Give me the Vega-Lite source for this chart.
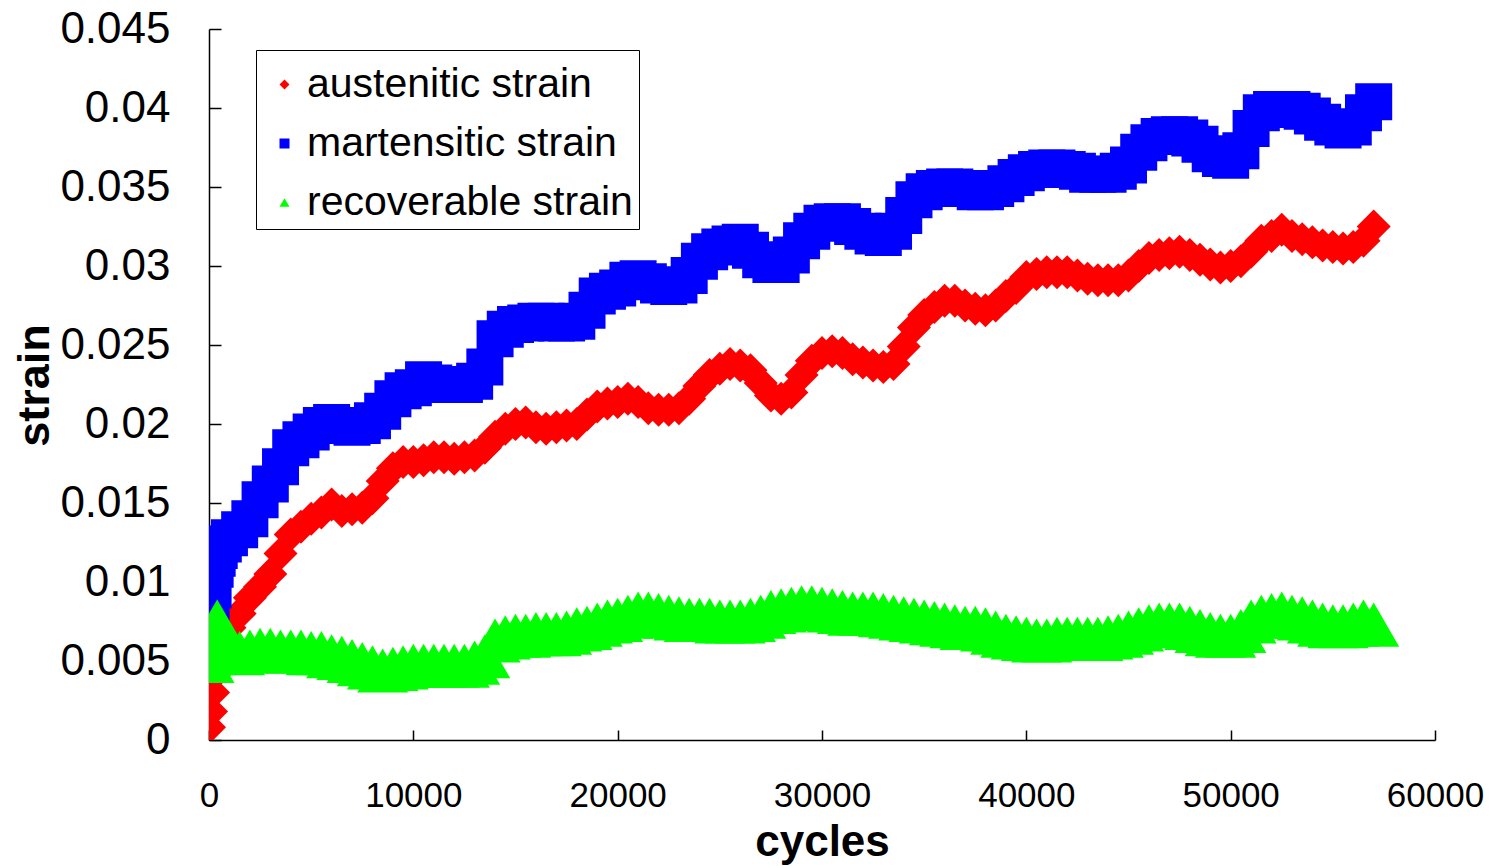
{
  "$schema": "https://vega.github.io/schema/vega-lite/v6.json",
  "width": 1226,
  "height": 711,
  "autosize": {"type": "none"},
  "padding": {"left": 209, "top": 29, "right": 60, "bottom": 126},
  "background": "white",
  "config": {"view": {"stroke": null}, "font": "Liberation Sans"},
  "data": {
    "values": [
      {"cycles": 0, "austenitic strain": 0.0008, "martensitic strain": 0.0070, "recoverable strain": 0.0050},
      {"cycles": 100, "austenitic strain": 0.0018, "martensitic strain": 0.0080, "recoverable strain": 0.0055},
      {"cycles": 200, "austenitic strain": 0.0030, "martensitic strain": 0.0095, "recoverable strain": 0.0058},
      {"cycles": 300, "austenitic strain": 0.0042, "martensitic strain": 0.0108, "recoverable strain": 0.0066},
      {"cycles": 400, "austenitic strain": 0.0052, "martensitic strain": 0.0115, "recoverable strain": 0.0075},
      {"cycles": 500, "austenitic strain": 0.0060, "martensitic strain": 0.0120, "recoverable strain": 0.0068},
      {"cycles": 700, "austenitic strain": 0.0066, "martensitic strain": 0.0124, "recoverable strain": 0.0061},
      {"cycles": 1000, "austenitic strain": 0.0071, "martensitic strain": 0.0128, "recoverable strain": 0.0056},
      {"cycles": 1500, "austenitic strain": 0.0080, "martensitic strain": 0.0133, "recoverable strain": 0.0055},
      {"cycles": 2000, "austenitic strain": 0.0090, "martensitic strain": 0.0140, "recoverable strain": 0.0056},
      {"cycles": 2500, "austenitic strain": 0.0097, "martensitic strain": 0.0152, "recoverable strain": 0.0057},
      {"cycles": 3000, "austenitic strain": 0.0105, "martensitic strain": 0.0162, "recoverable strain": 0.0057},
      {"cycles": 3500, "austenitic strain": 0.0118, "martensitic strain": 0.0173, "recoverable strain": 0.0056},
      {"cycles": 4000, "austenitic strain": 0.0130, "martensitic strain": 0.0185, "recoverable strain": 0.0056},
      {"cycles": 4500, "austenitic strain": 0.0135, "martensitic strain": 0.0190, "recoverable strain": 0.0056},
      {"cycles": 5000, "austenitic strain": 0.0140, "martensitic strain": 0.0195, "recoverable strain": 0.0055},
      {"cycles": 5500, "austenitic strain": 0.0144, "martensitic strain": 0.0199, "recoverable strain": 0.0055},
      {"cycles": 6000, "austenitic strain": 0.0149, "martensitic strain": 0.0201, "recoverable strain": 0.0053},
      {"cycles": 6500, "austenitic strain": 0.0145, "martensitic strain": 0.0199, "recoverable strain": 0.0052},
      {"cycles": 7000, "austenitic strain": 0.0146, "martensitic strain": 0.0198, "recoverable strain": 0.0050},
      {"cycles": 7500, "austenitic strain": 0.0147, "martensitic strain": 0.0199, "recoverable strain": 0.0048},
      {"cycles": 8000, "austenitic strain": 0.0153, "martensitic strain": 0.0202, "recoverable strain": 0.0046},
      {"cycles": 8500, "austenitic strain": 0.0164, "martensitic strain": 0.0208, "recoverable strain": 0.0044},
      {"cycles": 9000, "austenitic strain": 0.0172, "martensitic strain": 0.0216, "recoverable strain": 0.0045},
      {"cycles": 9500, "austenitic strain": 0.0176, "martensitic strain": 0.0221, "recoverable strain": 0.0046},
      {"cycles": 10000, "austenitic strain": 0.0176, "martensitic strain": 0.0223, "recoverable strain": 0.0047},
      {"cycles": 10500, "austenitic strain": 0.0177, "martensitic strain": 0.0228, "recoverable strain": 0.0047},
      {"cycles": 11000, "austenitic strain": 0.0179, "martensitic strain": 0.0226, "recoverable strain": 0.0047},
      {"cycles": 11500, "austenitic strain": 0.0179, "martensitic strain": 0.0225, "recoverable strain": 0.0047},
      {"cycles": 12000, "austenitic strain": 0.0178, "martensitic strain": 0.0225, "recoverable strain": 0.0047},
      {"cycles": 12500, "austenitic strain": 0.0179, "martensitic strain": 0.0225, "recoverable strain": 0.0047},
      {"cycles": 13000, "austenitic strain": 0.0180, "martensitic strain": 0.0227, "recoverable strain": 0.0049},
      {"cycles": 13500, "austenitic strain": 0.0185, "martensitic strain": 0.0236, "recoverable strain": 0.0053},
      {"cycles": 14000, "austenitic strain": 0.0192, "martensitic strain": 0.0254, "recoverable strain": 0.0063},
      {"cycles": 14500, "austenitic strain": 0.0197, "martensitic strain": 0.0260, "recoverable strain": 0.0065},
      {"cycles": 15000, "austenitic strain": 0.0200, "martensitic strain": 0.0263, "recoverable strain": 0.0066},
      {"cycles": 15500, "austenitic strain": 0.0201, "martensitic strain": 0.0264, "recoverable strain": 0.0066},
      {"cycles": 16000, "austenitic strain": 0.0198, "martensitic strain": 0.0265, "recoverable strain": 0.0067},
      {"cycles": 16500, "austenitic strain": 0.0197, "martensitic strain": 0.0265, "recoverable strain": 0.0067},
      {"cycles": 17000, "austenitic strain": 0.0198, "martensitic strain": 0.0264, "recoverable strain": 0.0067},
      {"cycles": 17500, "austenitic strain": 0.0199, "martensitic strain": 0.0264, "recoverable strain": 0.0068},
      {"cycles": 18000, "austenitic strain": 0.0200, "martensitic strain": 0.0265, "recoverable strain": 0.0070},
      {"cycles": 18500, "austenitic strain": 0.0206, "martensitic strain": 0.0272, "recoverable strain": 0.0071},
      {"cycles": 19000, "austenitic strain": 0.0211, "martensitic strain": 0.0281, "recoverable strain": 0.0073},
      {"cycles": 19500, "austenitic strain": 0.0213, "martensitic strain": 0.0284, "recoverable strain": 0.0075},
      {"cycles": 20000, "austenitic strain": 0.0214, "martensitic strain": 0.0286, "recoverable strain": 0.0076},
      {"cycles": 20500, "austenitic strain": 0.0216, "martensitic strain": 0.0291, "recoverable strain": 0.0078},
      {"cycles": 21000, "austenitic strain": 0.0214, "martensitic strain": 0.0292, "recoverable strain": 0.0080},
      {"cycles": 21500, "austenitic strain": 0.0210, "martensitic strain": 0.0290, "recoverable strain": 0.0080},
      {"cycles": 22000, "austenitic strain": 0.0209, "martensitic strain": 0.0288, "recoverable strain": 0.0079},
      {"cycles": 22500, "austenitic strain": 0.0209, "martensitic strain": 0.0287, "recoverable strain": 0.0078},
      {"cycles": 23000, "austenitic strain": 0.0210, "martensitic strain": 0.0288, "recoverable strain": 0.0077},
      {"cycles": 23500, "austenitic strain": 0.0216, "martensitic strain": 0.0294, "recoverable strain": 0.0076},
      {"cycles": 24000, "austenitic strain": 0.0224, "martensitic strain": 0.0303, "recoverable strain": 0.0076},
      {"cycles": 24500, "austenitic strain": 0.0231, "martensitic strain": 0.0309, "recoverable strain": 0.0076},
      {"cycles": 25000, "austenitic strain": 0.0235, "martensitic strain": 0.0312, "recoverable strain": 0.0075},
      {"cycles": 25500, "austenitic strain": 0.0238, "martensitic strain": 0.0314, "recoverable strain": 0.0075},
      {"cycles": 26000, "austenitic strain": 0.0237, "martensitic strain": 0.0315, "recoverable strain": 0.0075},
      {"cycles": 26500, "austenitic strain": 0.0234, "martensitic strain": 0.0310, "recoverable strain": 0.0076},
      {"cycles": 27000, "austenitic strain": 0.0226, "martensitic strain": 0.0304, "recoverable strain": 0.0078},
      {"cycles": 27500, "austenitic strain": 0.0218, "martensitic strain": 0.0301, "recoverable strain": 0.0081},
      {"cycles": 28000, "austenitic strain": 0.0216, "martensitic strain": 0.0301, "recoverable strain": 0.0082},
      {"cycles": 28500, "austenitic strain": 0.0220, "martensitic strain": 0.0307, "recoverable strain": 0.0083},
      {"cycles": 29000, "austenitic strain": 0.0231, "martensitic strain": 0.0316, "recoverable strain": 0.0084},
      {"cycles": 29500, "austenitic strain": 0.0240, "martensitic strain": 0.0322, "recoverable strain": 0.0084},
      {"cycles": 30000, "austenitic strain": 0.0245, "martensitic strain": 0.0327, "recoverable strain": 0.0083},
      {"cycles": 30500, "austenitic strain": 0.0246, "martensitic strain": 0.0328, "recoverable strain": 0.0082},
      {"cycles": 31000, "austenitic strain": 0.0245, "martensitic strain": 0.0328, "recoverable strain": 0.0081},
      {"cycles": 31500, "austenitic strain": 0.0241, "martensitic strain": 0.0325, "recoverable strain": 0.0080},
      {"cycles": 32000, "austenitic strain": 0.0239, "martensitic strain": 0.0322, "recoverable strain": 0.0080},
      {"cycles": 32500, "austenitic strain": 0.0237, "martensitic strain": 0.0319, "recoverable strain": 0.0080},
      {"cycles": 33000, "austenitic strain": 0.0236, "martensitic strain": 0.0318, "recoverable strain": 0.0079},
      {"cycles": 33500, "austenitic strain": 0.0238, "martensitic strain": 0.0322, "recoverable strain": 0.0078},
      {"cycles": 34000, "austenitic strain": 0.0249, "martensitic strain": 0.0332, "recoverable strain": 0.0077},
      {"cycles": 34500, "austenitic strain": 0.0261, "martensitic strain": 0.0342, "recoverable strain": 0.0076},
      {"cycles": 35000, "austenitic strain": 0.0269, "martensitic strain": 0.0347, "recoverable strain": 0.0075},
      {"cycles": 35500, "austenitic strain": 0.0274, "martensitic strain": 0.0349, "recoverable strain": 0.0074},
      {"cycles": 36000, "austenitic strain": 0.0278, "martensitic strain": 0.0350, "recoverable strain": 0.0073},
      {"cycles": 36500, "austenitic strain": 0.0278, "martensitic strain": 0.0350, "recoverable strain": 0.0072},
      {"cycles": 37000, "austenitic strain": 0.0275, "martensitic strain": 0.0349, "recoverable strain": 0.0071},
      {"cycles": 37500, "austenitic strain": 0.0273, "martensitic strain": 0.0347, "recoverable strain": 0.0071},
      {"cycles": 38000, "austenitic strain": 0.0272, "martensitic strain": 0.0347, "recoverable strain": 0.0070},
      {"cycles": 38500, "austenitic strain": 0.0275, "martensitic strain": 0.0349, "recoverable strain": 0.0068},
      {"cycles": 39000, "austenitic strain": 0.0281, "martensitic strain": 0.0352, "recoverable strain": 0.0066},
      {"cycles": 39500, "austenitic strain": 0.0286, "martensitic strain": 0.0356, "recoverable strain": 0.0065},
      {"cycles": 40000, "austenitic strain": 0.0293, "martensitic strain": 0.0359, "recoverable strain": 0.0064},
      {"cycles": 40500, "austenitic strain": 0.0295, "martensitic strain": 0.0361, "recoverable strain": 0.0063},
      {"cycles": 41000, "austenitic strain": 0.0296, "martensitic strain": 0.0362, "recoverable strain": 0.0063},
      {"cycles": 41500, "austenitic strain": 0.0296, "martensitic strain": 0.0362, "recoverable strain": 0.0064},
      {"cycles": 42000, "austenitic strain": 0.0296, "martensitic strain": 0.0361, "recoverable strain": 0.0064},
      {"cycles": 42500, "austenitic strain": 0.0294, "martensitic strain": 0.0360, "recoverable strain": 0.0064},
      {"cycles": 43000, "austenitic strain": 0.0292, "martensitic strain": 0.0358, "recoverable strain": 0.0064},
      {"cycles": 43500, "austenitic strain": 0.0291, "martensitic strain": 0.0358, "recoverable strain": 0.0064},
      {"cycles": 44000, "austenitic strain": 0.0291, "martensitic strain": 0.0358, "recoverable strain": 0.0065},
      {"cycles": 44500, "austenitic strain": 0.0291, "martensitic strain": 0.0360, "recoverable strain": 0.0066},
      {"cycles": 45000, "austenitic strain": 0.0294, "martensitic strain": 0.0364, "recoverable strain": 0.0068},
      {"cycles": 45500, "austenitic strain": 0.0300, "martensitic strain": 0.0372, "recoverable strain": 0.0070},
      {"cycles": 46000, "austenitic strain": 0.0305, "martensitic strain": 0.0378, "recoverable strain": 0.0072},
      {"cycles": 46500, "austenitic strain": 0.0307, "martensitic strain": 0.0382, "recoverable strain": 0.0073},
      {"cycles": 47000, "austenitic strain": 0.0308, "martensitic strain": 0.0383, "recoverable strain": 0.0073},
      {"cycles": 47500, "austenitic strain": 0.0309, "martensitic strain": 0.0383, "recoverable strain": 0.0073},
      {"cycles": 48000, "austenitic strain": 0.0307, "martensitic strain": 0.0381, "recoverable strain": 0.0071},
      {"cycles": 48500, "austenitic strain": 0.0304, "martensitic strain": 0.0377, "recoverable strain": 0.0069},
      {"cycles": 49000, "austenitic strain": 0.0301, "martensitic strain": 0.0371, "recoverable strain": 0.0067},
      {"cycles": 49500, "austenitic strain": 0.0299, "martensitic strain": 0.0368, "recoverable strain": 0.0066},
      {"cycles": 50000, "austenitic strain": 0.0300, "martensitic strain": 0.0367, "recoverable strain": 0.0066},
      {"cycles": 50500, "austenitic strain": 0.0303, "martensitic strain": 0.0373, "recoverable strain": 0.0069},
      {"cycles": 51000, "austenitic strain": 0.0309, "martensitic strain": 0.0387, "recoverable strain": 0.0075},
      {"cycles": 51500, "austenitic strain": 0.0316, "martensitic strain": 0.0397, "recoverable strain": 0.0078},
      {"cycles": 52000, "austenitic strain": 0.0319, "martensitic strain": 0.0399, "recoverable strain": 0.0079},
      {"cycles": 52500, "austenitic strain": 0.0323, "martensitic strain": 0.0399, "recoverable strain": 0.0080},
      {"cycles": 53000, "austenitic strain": 0.0319, "martensitic strain": 0.0399, "recoverable strain": 0.0078},
      {"cycles": 53500, "austenitic strain": 0.0317, "martensitic strain": 0.0398, "recoverable strain": 0.0077},
      {"cycles": 54000, "austenitic strain": 0.0315, "martensitic strain": 0.0395, "recoverable strain": 0.0075},
      {"cycles": 54500, "austenitic strain": 0.0313, "martensitic strain": 0.0391, "recoverable strain": 0.0073},
      {"cycles": 55000, "austenitic strain": 0.0312, "martensitic strain": 0.0388, "recoverable strain": 0.0072},
      {"cycles": 55500, "austenitic strain": 0.0311, "martensitic strain": 0.0386, "recoverable strain": 0.0072},
      {"cycles": 56000, "austenitic strain": 0.0312, "martensitic strain": 0.0388, "recoverable strain": 0.0073},
      {"cycles": 56500, "austenitic strain": 0.0316, "martensitic strain": 0.0397, "recoverable strain": 0.0075},
      {"cycles": 57000, "austenitic strain": 0.0325, "martensitic strain": 0.0404, "recoverable strain": 0.0073}
    ]
  },
  "transform": [
    {"fold": ["austenitic strain", "martensitic strain", "recoverable strain"], "as": ["series", "strain"]}
  ],
  "encoding": {
    "x": {
      "field": "cycles",
      "type": "quantitative",
      "scale": {"domain": [0, 60000], "nice": false},
      "axis": {
        "title": "cycles",
        "values": [0, 10000, 20000, 30000, 40000, 50000, 60000],
        "format": "d",
        "grid": false,
        "labelFlush": false,
        "labelFontSize": 35,
        "labelColor": "black",
        "labelPadding": 48,
        "tickSize": -10,
        "tickColor": "black",
        "tickWidth": 1.5,
        "domainColor": "black",
        "domainWidth": 1.5,
        "titleFontSize": 44,
        "titleFontWeight": "bold",
        "titleColor": "black",
        "titleBaseline": "alphabetic",
        "titleY": 115
      }
    },
    "y": {
      "field": "strain",
      "type": "quantitative",
      "scale": {"domain": [0, 0.045], "nice": false},
      "axis": {
        "title": "strain",
        "values": [0, 0.005, 0.01, 0.015, 0.02, 0.025, 0.03, 0.035, 0.04, 0.045],
        "format": "~g",
        "grid": false,
        "labelFlush": false,
        "labelFontSize": 44,
        "labelColor": "black",
        "labelPadding": 51,
        "tickSize": -12,
        "tickColor": "black",
        "tickWidth": 1.5,
        "domainColor": "black",
        "domainWidth": 1.5,
        "titleFontSize": 45,
        "titleFontWeight": "bold",
        "titleColor": "black",
        "titleAngle": -90,
        "titleAlign": "center",
        "titleBaseline": "alphabetic",
        "titleX": -161,
        "titleY": 356
      }
    },
    "color": {
      "field": "series",
      "type": "nominal",
      "scale": {
        "domain": ["austenitic strain", "martensitic strain", "recoverable strain"],
        "range": ["#ff0000", "#0000ff", "#00ff00"]
      },
      "legend": {
        "title": " ",
        "titleFontSize": 4,
        "titlePadding": 4,
        "orient": "none",
        "legendX": 47,
        "legendY": 21,
        "padding": 6,
        "strokeColor": "black",
        "fillColor": "white",
        "labelFontSize": 41,
        "labelColor": "black",
        "labelLimit": 1000,
        "labelOffset": 2,
        "symbolOffset": 2,
        "symbolSize": 100,
        "symbolStrokeWidth": 0,
        "rowPadding": 17
      }
    },
    "shape": {
      "field": "series",
      "type": "nominal",
      "scale": {
        "domain": ["austenitic strain", "martensitic strain", "recoverable strain"],
        "range": ["diamond", "square", "triangle-up"]
      },
      "legend": {
        "title": " ",
        "titleFontSize": 4,
        "titlePadding": 4,
        "orient": "none",
        "legendX": 47,
        "legendY": 21,
        "padding": 6,
        "strokeColor": "black",
        "fillColor": "white",
        "labelFontSize": 41,
        "labelColor": "black",
        "labelLimit": 1000,
        "labelOffset": 2,
        "symbolOffset": 2,
        "symbolSize": 100,
        "symbolStrokeWidth": 0,
        "rowPadding": 17
      }
    }
  },
  "layer": [
    {
      "transform": [{"filter": {"field": "series", "equal": "austenitic strain"}}],
      "mark": {"type": "point", "filled": true, "opacity": 1, "size": 1156, "clip": true}
    },
    {
      "transform": [{"filter": {"field": "series", "equal": "martensitic strain"}}],
      "mark": {"type": "point", "filled": true, "opacity": 1, "size": 1369, "clip": true}
    },
    {
      "transform": [{"filter": {"field": "series", "equal": "recoverable strain"}}],
      "mark": {"type": "point", "filled": true, "opacity": 1, "size": 2600, "clip": true}
    }
  ]
}
